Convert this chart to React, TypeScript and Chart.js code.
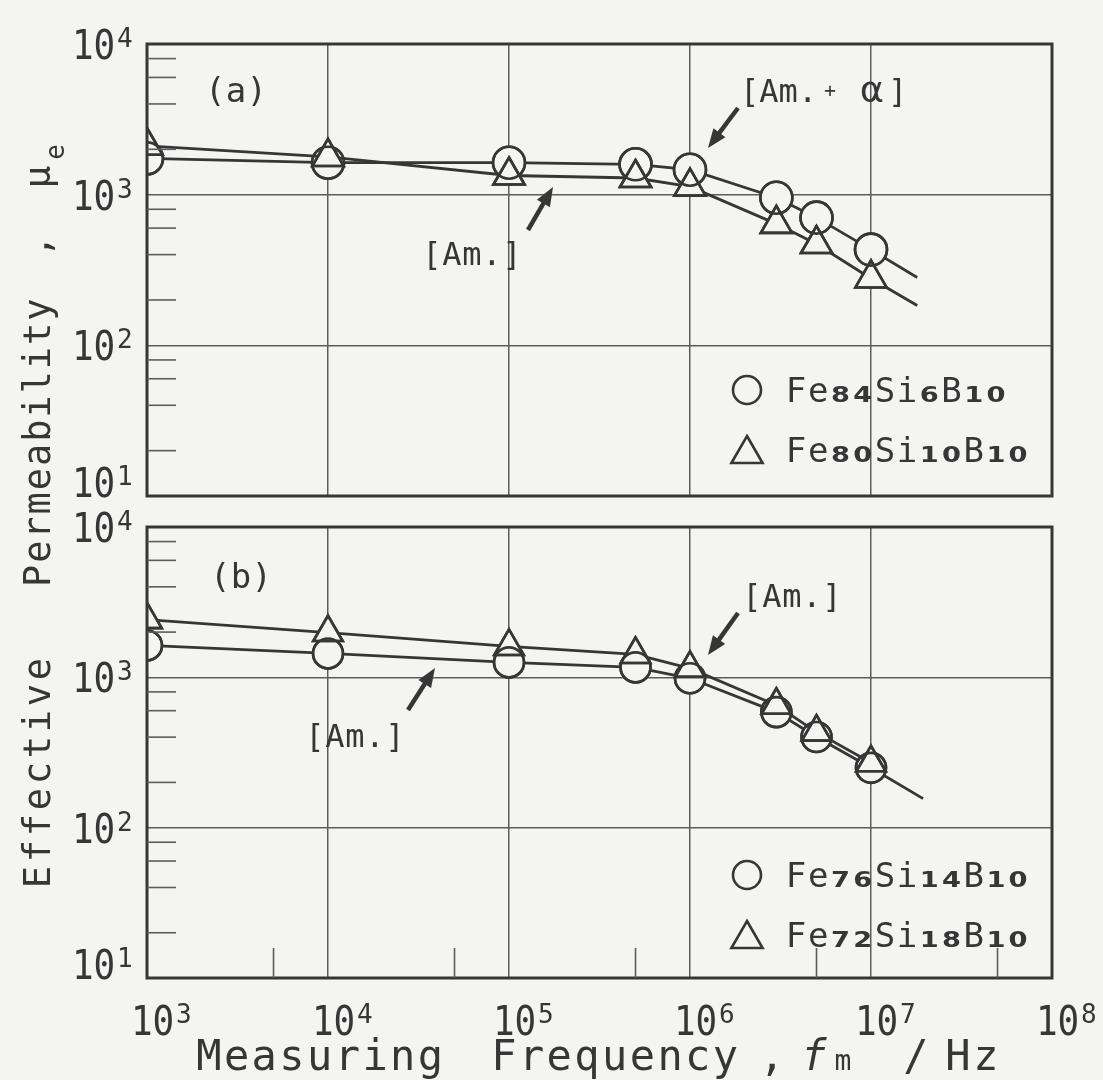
import React, { useEffect, useRef } from "react";
import { Chart, registerables } from "chart.js";

Chart.register(...registerables);

// ---------------- data ----------------
const freqHz = [1e3, 1e4, 1e5, 5e5, 1e6, 3e6, 5e6, 1e7];

const panelA_Fe84Si6B10 = [1740, 1630, 1630, 1590, 1465, 955, 704, 432];
const panelA_Fe80Si10B10 = [2110, 1780, 1340, 1290, 1130, 640, 470, 278];
const panelA_tailFreq = 1.8e7;
const panelA_Fe84Si6B10_tail = 282;
const panelA_Fe80Si10B10_tail = 184;

const panelB_Fe76Si14B10 = [1630, 1442, 1257, 1165, 985, 587, 401, 250];
const panelB_Fe72Si18B10 = [2420, 1985, 1605, 1420, 1147, 652, 432, 270];
const panelB_tailFreq = 1.94e7;
const panelB_Fe76Si14B10_tail = 156;

const xDecades = [1e3, 1e4, 1e5, 1e6, 1e7, 1e8];
const xExponents = ["3", "4", "5", "6", "7", "8"];
const yDecades = [1e1, 1e2, 1e3, 1e4];
const yExponents = ["1", "2", "3", "4"];
const yMinorMultipliers = [2, 4, 6, 8];
const xMinorMultipliers = [5];

const legendA = ["Fe_{84}Si_{6}B_{10}", "Fe_{80}Si_{10}B_{10}"];
const legendB = ["Fe_{76}Si_{14}B_{10}", "Fe_{72}Si_{18}B_{10}"];

// ---------------- style ----------------
const W = 1103;
const H = 1080;
const BG = "#f4f4f2";
const INK = "#363636";
const GRID = "#5c5c5c";
const MONO = '"DejaVu Sans Mono", monospace';
const SANS = '"DejaVu Sans", sans-serif';
const f = (px: number, weight = "normal", style = "normal", fam = MONO) =>
  `${style} ${weight} ${px}px ${fam}`;

function drawCells(ctx: CanvasRenderingContext2D, text: string, x: number, y: number, adv: number, font: string, sx = 1) {
  ctx.font = font;
  ctx.textAlign = "center";
  ctx.textBaseline = "alphabetic";
  for (let i = 0; i < text.length; i++) {
    ctx.save();
    ctx.translate(x + adv * i + adv / 2, y);
    ctx.scale(sx, 1);
    ctx.fillText(text[i], 0, 0);
    ctx.restore();
  }
}

function drawArrow(ctx: CanvasRenderingContext2D, x1: number, y1: number, x2: number, y2: number) {
  const ang = Math.atan2(y2 - y1, x2 - x1);
  const hl = 19, hw = 7.5;
  const bx = x2 - hl * Math.cos(ang);
  const by = y2 - hl * Math.sin(ang);
  ctx.lineWidth = 4.5;
  ctx.lineCap = "butt";
  ctx.beginPath();
  ctx.moveTo(x1, y1);
  ctx.lineTo(bx + 2 * Math.cos(ang), by + 2 * Math.sin(ang));
  ctx.stroke();
  ctx.beginPath();
  ctx.moveTo(x2, y2);
  ctx.lineTo(bx + hw * Math.sin(ang), by - hw * Math.cos(ang));
  ctx.lineTo(bx - hw * Math.sin(ang), by + hw * Math.cos(ang));
  ctx.closePath();
  ctx.fill();
}

function markerPath(ctx: CanvasRenderingContext2D, style: string, x: number, y: number, r: number) {
  ctx.beginPath();
  if (style === "circle") {
    ctx.arc(x, y, r, 0, Math.PI * 2);
  } else {
    for (let k = 0; k < 3; k++) {
      const rad = (k * 2 * Math.PI) / 3;
      const px = x + Math.sin(rad) * r;
      const py = y - Math.cos(rad) * r;
      if (k === 0) ctx.moveTo(px, py);
      else ctx.lineTo(px, py);
    }
    ctx.closePath();
  }
}

function drawLegendRow(ctx: CanvasRenderingContext2D, marker: string, text: string, mx: number, tx: number, cy: number) {
  ctx.lineWidth = 2.6;
  ctx.strokeStyle = INK;
  if (marker === "circle") markerPath(ctx, "circle", mx, cy, 14);
  else markerPath(ctx, "triangle", mx, cy + 4, 18);
  ctx.stroke();
  const tokens = text.split(/(_\{[^}]*\})/).filter((t) => t.length);
  const adv = 22.2;
  let x = tx;
  const base = cy + 12;
  for (const tok of tokens) {
    if (tok.startsWith("_{")) {
      const s = tok.slice(2, -1);
      drawCells(ctx, s, x, base, adv, f(21, "bold", "normal", SANS), 1.3);
      x += adv * s.length;
    } else {
      drawCells(ctx, tok, x, base, adv, f(34));
      x += adv * tok.length;
    }
  }
}

type Ann = {
  label: string;
  labelPos: [number, number];
  texts: { kind: string; pos: [number, number] }[];
  arrows: [number, number, number, number][];
  legend: string[];
  legendRows: [number, number];
  xLabels: boolean;
  titles: boolean;
};

// re-stroke marker outlines over everything so overlapping open symbols both show
const outlinePlugin = {
  id: "markerOutlines",
  afterDatasetsDraw(chart: any) {
    const ctx: CanvasRenderingContext2D = chart.ctx;
    const a = chart.chartArea;
    ctx.save();
    ctx.beginPath();
    ctx.rect(a.left, a.top, a.right - a.left, a.bottom - a.top);
    ctx.clip();
    ctx.strokeStyle = INK;
    chart.data.datasets.forEach((ds: any, di: number) => {
      const meta = chart.getDatasetMeta(di);
      meta.data.forEach((el: any, i: number) => {
        const r = ds.pointRadius[i];
        if (!r) return;
        ctx.lineWidth = ds.pointBorderWidth;
        markerPath(ctx, ds.pointStyle, el.x, el.y, r);
        ctx.stroke();
      });
    });
    ctx.restore();
  },
};

function makePlugin(ann: Ann) {
  return {
    id: "panelDeco",
    afterDraw(chart: any) {
      const ctx: CanvasRenderingContext2D = chart.ctx;
      const a = chart.chartArea;
      const xs = chart.scales.x;
      const ys = chart.scales.y;
      ctx.save();
      ctx.fillStyle = INK;
      ctx.strokeStyle = INK;

      // frame
      ctx.lineWidth = 3;
      ctx.strokeRect(a.left, a.top, a.right - a.left, a.bottom - a.top);

      // y minor ticks
      ctx.lineWidth = 1.6;
      ctx.strokeStyle = GRID;
      for (let d = 0; d < yDecades.length - 1; d++) {
        for (const m of yMinorMultipliers) {
          const py = ys.getPixelForValue(yDecades[d] * m);
          ctx.beginPath();
          ctx.moveTo(a.left, py);
          ctx.lineTo(a.left + 29, py);
          ctx.stroke();
        }
      }
      // x minor ticks
      if (ann.xLabels) {
        for (let d = 0; d < xDecades.length - 1; d++) {
          for (const m of xMinorMultipliers) {
            const px = xs.getPixelForValue(xDecades[d] * m);
            ctx.beginPath();
            ctx.moveTo(px, a.bottom);
            ctx.lineTo(px, a.bottom - 30);
            ctx.stroke();
          }
        }
      }
      ctx.strokeStyle = INK;

      // y tick labels
      yDecades.forEach((v, i) => {
        let cy = ys.getPixelForValue(v);
        if (i === 0) cy -= 14;
        drawCells(ctx, "10", 72, cy + 15, 21.6, f(40), 0.9);
        ctx.font = f(26);
        ctx.textAlign = "left";
        ctx.fillText(yExponents[i], 117, cy + 3);
      });

      // x tick labels
      if (ann.xLabels) {
        xDecades.forEach((v, i) => {
          const gx = xs.getPixelForValue(v);
          const base = 1035;
          drawCells(ctx, "10", gx - 16, base, 21.6, f(40), 0.9);
          ctx.font = f(26);
          ctx.textAlign = "left";
          ctx.fillText(xExponents[i], gx + 29, base - 12);
        });
      }

      // panel label
      drawCells(ctx, ann.label, a.left + ann.labelPos[0], a.top + ann.labelPos[1], 20.7, f(34));

      // annotation texts
      for (const t of ann.texts) {
        const x0 = a.left + t.pos[0];
        const y0 = a.top + t.pos[1];
        if (t.kind === "amAlpha") {
          drawCells(ctx, "[Am.", x0, y0, 19.3, f(32));
          ctx.font = f(20);
          ctx.textAlign = "center";
          ctx.fillText("+", x0 + 90, y0 - 5);
          ctx.font = f(38);
          ctx.fillText("α", x0 + 132, y0);
          drawCells(ctx, "]", x0 + 148, y0, 19.3, f(32));
        } else {
          drawCells(ctx, "[Am.]", x0, y0, 20, f(32));
        }
      }
      for (const ar of ann.arrows) {
        drawArrow(ctx, a.left + ar[0], a.top + ar[1], a.left + ar[2], a.top + ar[3]);
      }

      // legend
      drawLegendRow(ctx, "circle", ann.legend[0], a.left + 600, a.left + 638, a.top + ann.legendRows[0]);
      drawLegendRow(ctx, "triangle", ann.legend[1], a.left + 600, a.left + 638, a.top + ann.legendRows[1]);

      // axis titles
      if (ann.titles) {
        ctx.fillStyle = INK;
        const base = 1070;
        drawCells(ctx, "Measuring", 195, base, 27.7, f(42));
        drawCells(ctx, "Frequency", 490, base, 27.7, f(42));
        drawCells(ctx, ",", 758, base, 27.7, f(42));
        drawCells(ctx, "f", 800, base, 27.7, f(42, "normal", "italic"));
        drawCells(ctx, "m", 832, base, 22, f(28));
        drawCells(ctx, "/", 902, base, 27.7, f(42));
        drawCells(ctx, "Hz", 944, base, 28, f(42));

        ctx.save();
        ctx.translate(50, 890);
        ctx.rotate(-Math.PI / 2);
        drawCells(ctx, "Effective", 0, 0, 26, f(37));
        drawCells(ctx, "Permeability", 302, 0, 24.2, f(37));
        drawCells(ctx, ",", 632, 0, 24, f(37));
        drawCells(ctx, "μ", 701, 0, 24, f(38));
        drawCells(ctx, "e", 729, 14, 18, f(26));
        ctx.restore();
      }
      ctx.restore();
    },
  };
}

function series(xsArr: number[], ysArr: number[], tailX: number | null, tailY: number | null, style: string, radius: number, order: number) {
  const data: { x: number; y: number }[] = xsArr.map((x, i) => ({ x, y: ysArr[i] }));
  const radii = xsArr.map(() => radius);
  if (tailX !== null && tailY !== null) {
    data.push({ x: tailX, y: tailY });
    radii.push(0);
  }
  return {
    data,
    order,
    pointStyle: style,
    pointRadius: radii,
    pointHoverRadius: radii,
    borderColor: INK,
    borderWidth: 2.8,
    pointBorderWidth: 2.6,
    pointBorderColor: INK,
    pointBackgroundColor: BG,
    tension: 0,
    fill: false,
  };
}

function makeConfig(datasets: any[], padding: any, plugin: any) {
  const gridOpts = { color: GRID, lineWidth: 1.5, drawTicks: false };
  return {
    type: "line",
    data: { datasets },
    options: {
      animation: false,
      responsive: false,
      maintainAspectRatio: false,
      devicePixelRatio: 1,
      events: [],
      layout: { padding },
      plugins: { legend: { display: false }, tooltip: { enabled: false } },
      scales: {
        x: {
          type: "logarithmic",
          min: 1e3,
          max: 1e8,
          afterBuildTicks: (s: any) => {
            s.ticks = xDecades.map((v) => ({ value: v }));
          },
          ticks: { display: false },
          grid: gridOpts,
          border: { display: false },
        },
        y: {
          type: "logarithmic",
          min: 1e1,
          max: 1e4,
          afterBuildTicks: (s: any) => {
            s.ticks = yDecades.map((v) => ({ value: v }));
          },
          ticks: { display: false },
          grid: gridOpts,
          border: { display: false },
        },
      },
    },
    plugins: [outlinePlugin, plugin],
  };
}

const annA: Ann = {
  label: "(a)",
  labelPos: [58, 58],
  texts: [
    { kind: "amAlpha", pos: [593, 58] },
    { kind: "am", pos: [275, 221] },
  ],
  arrows: [
    [591, 64, 561, 104],
    [381, 186, 406, 143],
  ],
  legend: legendA,
  legendRows: [346, 406],
  xLabels: false,
  titles: false,
};

const annB: Ann = {
  label: "(b)",
  labelPos: [63, 61],
  texts: [
    { kind: "am", pos: [595, 80] },
    { kind: "am", pos: [158, 220] },
  ],
  arrows: [
    [591, 86, 561, 128],
    [261, 183, 288, 141],
  ],
  legend: legendB,
  legendRows: [348, 408],
  xLabels: true,
  titles: true,
};

export default function App() {
  const refA = useRef<HTMLCanvasElement | null>(null);
  const refB = useRef<HTMLCanvasElement | null>(null);

  useEffect(() => {
    document.body.style.margin = "0";
    document.body.style.background = BG;
    const chartA = new Chart(
      refA.current as HTMLCanvasElement,
      makeConfig(
        [
          series(freqHz, panelA_Fe84Si6B10, panelA_tailFreq, panelA_Fe84Si6B10_tail, "circle", 16, 2),
          series(freqHz, panelA_Fe80Si10B10, panelA_tailFreq, panelA_Fe80Si10B10_tail, "triangle", 18, 1),
        ],
        { left: 147, right: 51, top: 44, bottom: 584 },
        makePlugin(annA)
      ) as any
    );
    const chartB = new Chart(
      refB.current as HTMLCanvasElement,
      makeConfig(
        [
          series(freqHz, panelB_Fe76Si14B10, panelB_tailFreq, panelB_Fe76Si14B10_tail, "circle", 15, 2),
          series(freqHz, panelB_Fe72Si18B10, null, null, "triangle", 17, 1),
        ],
        { left: 147, right: 51, top: 527, bottom: 102 },
        makePlugin(annB)
      ) as any
    );
    return () => {
      chartA.destroy();
      chartB.destroy();
    };
  }, []);

  const cs: React.CSSProperties = { position: "absolute", left: 0, top: 0, width: W, height: H };
  return (
    <div style={{ position: "relative", width: W, height: H, background: BG, overflow: "hidden" }}>
      <canvas ref={refA} width={W} height={H} style={cs} />
      <canvas ref={refB} width={W} height={H} style={cs} />
    </div>
  );
}
